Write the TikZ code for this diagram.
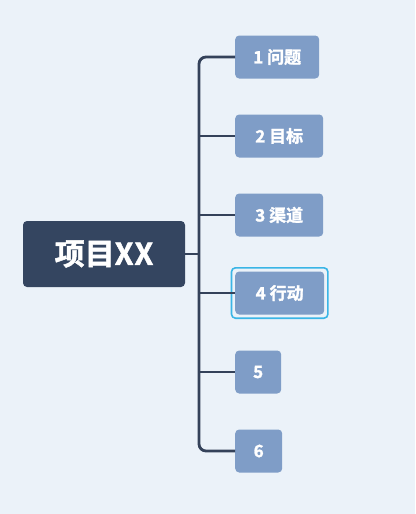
\documentclass[tikz,border=0pt]{standalone}
\usepackage{fontspec}
\setmainfont{Noto Sans CJK SC}
\newfontfamily\heavy{Noto Sans CJK SC Bold}[FakeBold=1.6]
\definecolor{bgc}{HTML}{EBF2F9}
\definecolor{rootc}{HTML}{344560}
\definecolor{childc}{HTML}{7F9DC7}
\definecolor{linec}{HTML}{34425A}
\definecolor{hlc}{HTML}{3AB5E6}
\begin{document}
\begin{tikzpicture}[x=1pt,y=-1pt,
  rootbox/.style={fill=rootc,rounded corners=4pt,minimum width=162pt,minimum height=66pt,inner sep=0pt,text=white,font=\heavy\fontsize{30}{30}\selectfont},
  childbox/.style={fill=childc,rounded corners=4pt,minimum height=43pt,inner sep=0pt,anchor=west,text=white,font=\heavy\fontsize{17}{17}\selectfont},
  conn/.style={draw=linec,line width=2.8pt,rounded corners=7pt}]
\fill[bgc] (0,0) rectangle (415,514);
\useasboundingbox (0,0) rectangle (415,514);
\node[rootbox] (root) at (104,254) {项目X\kern1ptX};
\node[childbox,minimum width=84pt] (c1) at (235,57) {1 问题};
\node[childbox,minimum width=88pt] (c2) at (235,136) {2 目标};
\node[childbox,minimum width=88pt] (c3) at (235,215) {3 渠道};
\node[childbox,minimum width=89pt] (c4) at (235,293) {4 行动};
\node[childbox,minimum width=46pt] (c5) at (235,372) {5};
\node[childbox,minimum width=47pt] (c6) at (235,451) {6};
\draw[hlc,line width=1.6pt,rounded corners=4pt] ([xshift=-3.5pt,yshift=3.5pt]c4.north west) rectangle ([xshift=3.5pt,yshift=-3.5pt]c4.south east);
\coordinate (t1) at (199,57);
\coordinate (t2) at (199,136);
\coordinate (t3) at (199,215);
\coordinate (t4) at (199,293);
\coordinate (t5) at (199,372);
\coordinate (t6) at (199,451);
\coordinate (tr) at (199,254);
\draw[conn] (c1.west) -- (t1) -- (t6) -- (c6.west);
\draw[conn] (root.east) -- (tr);
\draw[conn] (t2) -- (c2.west);
\draw[conn] (t3) -- (c3.west);
\draw[conn] (t4) -- (c4.west);
\draw[conn] (t5) -- (c5.west);
\end{tikzpicture}
\end{document}
